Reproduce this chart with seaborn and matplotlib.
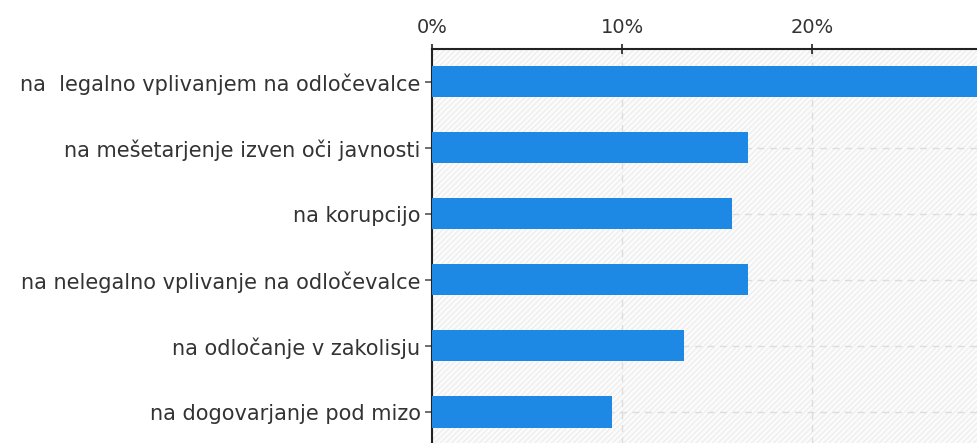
import matplotlib
matplotlib.use("Agg")
import matplotlib.pyplot as plt
import matplotlib.patches as mpatches
import seaborn as sns

categories = [
    "na  legalno vplivanjem na odločevalce",
    "na mešetarjenje izven oči javnosti",
    "na korupcijo",
    "na nelegalno vplivanje na odločevalce",
    "na odločanje v zakolisju",
    "na dogovarjanje pod mizo",
]
values = [32.0, 16.6, 15.8, 16.6, 13.25, 9.45]
tick_values = [0, 10, 20]
tick_labels = ["0%", "10%", "20%"]

sns.set_style("white")
plt.rcParams["font.family"] = ["DejaVu Sans"]
plt.rcParams["hatch.linewidth"] = 0.8

fig = plt.figure(figsize=(9.78, 4.43), dpi=100)
ax = fig.add_axes([0.4414, -0.0045, 0.5586, 0.894])

# faint hatched background
bg = mpatches.Rectangle((0, 0), 1, 1, transform=ax.transAxes,
                        facecolor="#fbfbfb", edgecolor="#ececec",
                        hatch="//////", lw=0, zorder=0)
ax.add_patch(bg)

sns.barplot(x=values, y=categories, color="#1E88E5", saturation=1,
            width=0.47, orient="h", ax=ax, zorder=3,
            edgecolor="#1E88E5", linewidth=0)

ax.set_xlim(0, 28.7)
ax.set_ylim(5.5, -0.5)

ax.xaxis.tick_top()
ax.set_xticks(tick_values)
ax.set_xticklabels(tick_labels)
ax.set_xlabel("")
ax.set_ylabel("")

ax.grid(True, axis="both", linestyle=(0, (5, 4)), color="#dddddd", lw=1, zorder=1)
ax.set_axisbelow(True)

for s in ["right", "bottom"]:
    ax.spines[s].set_visible(False)
for s in ["top", "left"]:
    ax.spines[s].set_color("#222222")
    ax.spines[s].set_linewidth(1.5)

ax.tick_params(axis="x", which="both", top=True, bottom=False, direction="inout",
               length=7, width=1.2, color="#222222", labelsize=14,
               labelcolor="#333333", pad=5)
ax.tick_params(axis="y", left=True, direction="out", length=5, width=1.2,
               color="#555555", labelsize=15, labelcolor="#333333", pad=3)

plt.savefig("out.png", dpi=100)
